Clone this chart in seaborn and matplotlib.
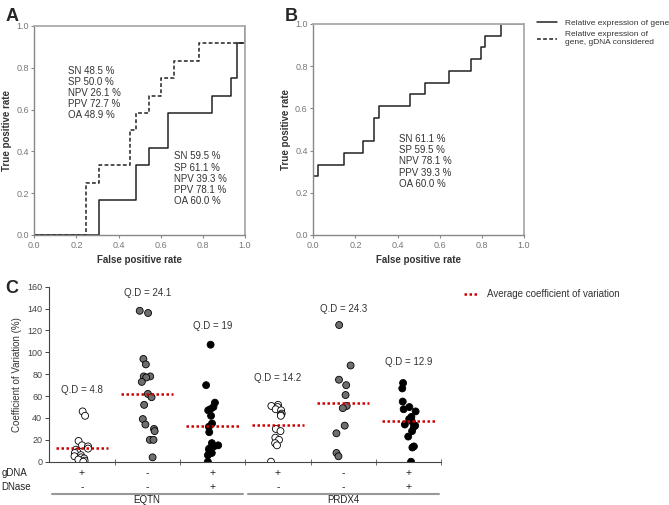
import numpy as np
import pandas as pd
import matplotlib
matplotlib.use("Agg")
import matplotlib.pyplot as plt
from matplotlib.lines import Line2D
import seaborn as sns

sns.set_style("white")
plt.rcParams["font.family"] = ["Liberation Sans", "DejaVu Sans"]
np.random.seed(3)  # only for the strip jitter

# ROC panel A: step curves (false positive rate, true positive rate)
roc_a_fpr = [0.0, 0.305, 0.305, 0.484, 0.484, 0.544, 0.544, 0.633, 0.633, 0.844, 0.844, 0.933, 0.933, 0.964, 0.964, 1.0, 1.0]
roc_a_tpr = [0.0, 0.0, 0.167, 0.167, 0.333, 0.333, 0.417, 0.417, 0.583, 0.583, 0.667, 0.667, 0.75, 0.75, 0.917, 0.917, 1.0]
roc_a_gdna_fpr = [0.0, 0.245, 0.245, 0.305, 0.305, 0.455, 0.455, 0.484, 0.484, 0.544, 0.544, 0.60, 0.60, 0.664, 0.664, 0.78, 0.78, 1.0, 1.0]
roc_a_gdna_tpr = [0.0, 0.0, 0.25, 0.25, 0.333, 0.333, 0.5, 0.5, 0.583, 0.583, 0.667, 0.667, 0.75, 0.75, 0.833, 0.833, 0.917, 0.917, 1.0]

# ROC panel B
roc_b_fpr = [0.0, 0.0, 0.024, 0.024, 0.146, 0.146, 0.238, 0.238, 0.286, 0.286, 0.311, 0.311, 0.457, 0.457, 0.529, 0.529,
             0.646, 0.646, 0.746, 0.746, 0.794, 0.794, 0.817, 0.817, 0.889, 0.889, 1.0]
roc_b_tpr = [0.0, 0.278, 0.278, 0.333, 0.333, 0.389, 0.389, 0.444, 0.444, 0.556, 0.556, 0.611, 0.611, 0.667, 0.667, 0.722,
             0.722, 0.778, 0.778, 0.833, 0.833, 0.889, 0.889, 0.944, 0.944, 1.0, 1.0]

stats_a_gdna = ["SN 48.5 %", "SP 50.0 %", "NPV 26.1 %", "PPV 72.7 %", "OA 48.9 %"]
stats_a = ["SN 59.5 %", "SP 61.1 %", "NPV 39.3 %", "PPV 78.1 %", "OA 60.0 %"]
stats_b = ["SN 61.1 %", "SP 59.5 %", "NPV 78.1 %", "PPV 39.3 %", "OA 60.0 %"]

# Panel C: coefficient of variation (%) per group
cv_eqtn_pos_neg = [46, 42, 19, 15, 14, 12, 11, 9, 8, 6, 5, 4, 3, 2, 1, 0]
cv_eqtn_neg_neg = [138, 136, 94, 89, 78, 78, 77, 73, 62, 59, 52, 39, 34, 30, 28, 20, 20, 4]
cv_eqtn_pos_pos = [107, 70, 54, 50, 48, 47, 42, 35, 32, 27, 17, 15, 14, 12, 11, 8, 6, 0]
cv_prdx4_pos_neg = [52, 51, 50, 48, 47, 44, 43, 42, 30, 28, 22, 20, 17, 15, 0]
cv_prdx4_neg_neg = [125, 88, 75, 70, 61, 51, 49, 33, 26, 8, 5]
cv_prdx4_pos_pos = [72, 67, 55, 50, 48, 46, 41, 39, 37, 34, 33, 32, 28, 23, 14, 13, 0]

groups = ["EQTN +/-", "EQTN -/-", "EQTN +/+", "PRDX4 +/-", "PRDX4 -/-", "PRDX4 +/+"]
group_fill = ["white", "#6e6e6e", "black", "white", "#6e6e6e", "black"]
qd_labels = ["Q.D = 4.8", "Q.D = 24.1", "Q.D = 19", "Q.D = 14.2", "Q.D = 24.3", "Q.D = 12.9"]
gdna_signs = ["+", "-", "+", "+", "-", "+"]
dnase_signs = ["-", "-", "+", "-", "-", "+"]
genes = ["EQTN", "PRDX4"]

all_cv = [cv_eqtn_pos_neg, cv_eqtn_neg_neg, cv_eqtn_pos_pos, cv_prdx4_pos_neg, cv_prdx4_neg_neg, cv_prdx4_pos_pos]
df = pd.DataFrame({
    "group": np.concatenate([[g] * len(v) for g, v in zip(groups, all_cv)]),
    "cv": np.concatenate(all_cv),
})

fig = plt.figure(figsize=(6.69, 5.05), dpi=100)
ax_a = fig.add_axes([0.0513, 0.5347, 0.315, 0.414])
ax_b = fig.add_axes([0.4683, 0.5347, 0.315, 0.418])
ax_c = fig.add_axes([0.0735, 0.0857, 0.586, 0.3465])

txt_col = "#333333"
tick_col = "#777777"


def style_roc(ax):
    ax.set_xlim(0, 1)
    ax.set_ylim(0, 1)
    ax.set_xticks(np.arange(0, 1.01, 0.2))
    ax.set_yticks(np.arange(0, 1.01, 0.2))
    ax.set_xticklabels([f"{v:.1f}" for v in np.arange(0, 1.01, 0.2)])
    ax.set_yticklabels([f"{v:.1f}" for v in np.arange(0, 1.01, 0.2)])
    ax.tick_params(labelsize=6.5, labelcolor=tick_col, color="#888888", length=2.5, width=0.8,
                   direction="out", bottom=True, left=True, pad=1.5)
    for s in ["top", "right"]:
        ax.spines[s].set_color("#aaaaaa")
        ax.spines[s].set_linewidth(1.3)
    for s in ["left", "bottom"]:
        ax.spines[s].set_color("#888888")
        ax.spines[s].set_linewidth(1.0)
    ax.set_xlabel("False positive rate", fontsize=7, fontweight="bold", color=txt_col, labelpad=4)
    ax.set_ylabel("True positive rate", fontsize=7, fontweight="bold", color=txt_col, labelpad=3)


sns.lineplot(x=roc_a_fpr, y=roc_a_tpr, ax=ax_a, color="#222222", lw=1.1, sort=False, estimator=None,
             label="Relative expression of gene", legend=False)
sns.lineplot(x=roc_a_gdna_fpr, y=roc_a_gdna_tpr, ax=ax_a, color="#222222", lw=1.1, sort=False, estimator=None,
             linestyle=(0, (2.5, 1.5)), label="Relative expression of\ngene, gDNA considered", legend=False)
sns.lineplot(x=roc_b_fpr, y=roc_b_tpr, ax=ax_b, color="#222222", lw=1.1, sort=False, estimator=None,
             legend=False)
style_roc(ax_a)
style_roc(ax_b)

ax_a.text(0.16, 0.81, "\n".join(stats_a_gdna), fontsize=7, color=txt_col, va="top", linespacing=1.15)
ax_a.text(0.663, 0.40, "\n".join(stats_a), fontsize=7, color=txt_col, va="top", linespacing=1.15)
ax_b.text(0.408, 0.478, "\n".join(stats_b), fontsize=7, color=txt_col, va="top", linespacing=1.15)

handles, labels = ax_a.get_legend_handles_labels()
fig.legend(handles, labels, loc="upper left", bbox_to_anchor=(0.798, 0.968), frameon=False,
           fontsize=6.0, handlelength=2.4, handletextpad=0.9, labelspacing=0.5, labelcolor=txt_col,
           borderaxespad=0.0)

# Panel C
sns.stripplot(data=df, x="group", y="cv", hue="group", order=groups,
              palette=dict(zip(groups, group_fill)), edgecolor="black", linewidth=0.6,
              size=5, jitter=0.12, legend=False, ax=ax_c, zorder=3)
means = df.groupby("group", sort=False)["cv"].mean().reindex(groups).values
ax_c.hlines(means, np.arange(len(groups)) - 0.4, np.arange(len(groups)) + 0.4, colors="#d00000",
            linestyles=(0, (1, 1)), lw=1.8, zorder=5)

ax_c.set_ylim(0, 160)
ax_c.set_xlim(-0.5, len(groups) - 0.5)
ax_c.set_yticks(range(0, 161, 20))
ax_c.set_xticks([])
ax_c.set_xticks(np.arange(0.5, len(groups), 1.0), minor=True)
ax_c.tick_params(axis="x", which="minor", bottom=True, direction="inout", length=4, width=0.6, color="#555555")
ax_c.tick_params(axis="y", labelsize=6.5, labelcolor="#444444", left=True, length=3, width=0.7,
                 color="#444444", pad=2)
sns.despine(ax=ax_c)
ax_c.spines["left"].set_color("#444444")
ax_c.spines["bottom"].set_color("#444444")
ax_c.set_xlabel("")
ax_c.set_ylabel("Coefficient of Variation (%)", fontsize=7, color=txt_col, labelpad=4)

qd_heights = [66, 154, 124, 77, 140, 91]
for i, (lab, h) in enumerate(zip(qd_labels, qd_heights)):
    ax_c.text(i, h, lab, ha="center", va="center", fontsize=7, color=txt_col)

trans = ax_c.get_xaxis_transform()
for i in range(len(groups)):
    ax_c.text(i, -0.065, gdna_signs[i], ha="center", va="center", fontsize=7.5, color="#222222",
              transform=trans, clip_on=False)
    ax_c.text(i, -0.145, dnase_signs[i], ha="center", va="center", fontsize=7.5, color="#222222",
              transform=trans, clip_on=False)
fig.text(0.002, 1 - 473 / 505, "gDNA", fontsize=7, color="#222222", va="center")
fig.text(0.002, 1 - 487 / 505, "DNase", fontsize=7, color="#222222", va="center")
for k, gene in enumerate(genes):
    x0, x1 = -0.5 + 3 * k + 0.04, 2.5 + 3 * k - 0.04
    ax_c.plot([x0, x1], [-0.183, -0.183], color="#999999", lw=1.5, transform=trans, clip_on=False)
    ax_c.text(1 + 3 * k, -0.218, gene, ha="center", va="center", fontsize=7, color="#222222",
              transform=trans, clip_on=False)

avg_handle = Line2D([], [], color="#d00000", lw=1.8, linestyle=(0, (1, 1)))
fig.legend([avg_handle], ["Average coefficient of variation"], loc="center left",
           bbox_to_anchor=(0.688, 0.418), frameon=False, fontsize=7, handlelength=1.4,
           handletextpad=0.9, labelcolor=txt_col, borderaxespad=0.0)

fig.text(0.008, 0.985, "A", fontsize=13, fontweight="bold", va="top")
fig.text(0.425, 0.985, "B", fontsize=13, fontweight="bold", va="top")
fig.text(0.008, 0.445, "C", fontsize=13, fontweight="bold", va="top")

fig.savefig("out.png", dpi=100)
